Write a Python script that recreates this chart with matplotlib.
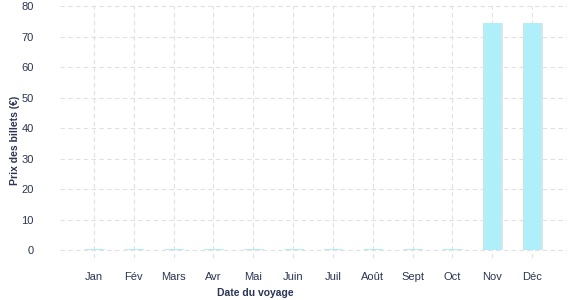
import numpy as np
import matplotlib.pyplot as plt

months = ["Jan", "Fév", "Mars", "Avr", "Mai", "Juin", "Juil", "Août", "Sept", "Oct", "Nov", "Déc"]
prices = [0.3, 0.3, 0.3, 0.3, 0.3, 0.3, 0.3, 0.3, 0.3, 0.3, 74.5, 74.5]

plt.rcParams["font.family"] = ["Liberation Sans", "DejaVu Sans"]
text_col = "#2b3553"

fig = plt.figure(figsize=(5.77, 3.0), dpi=100)
ax = fig.add_axes([60 / 577, 1 - 258 / 300, 507 / 577, 252 / 300])

x = np.arange(len(months))
# soft shadow behind bars
ax.bar(x + 0.04, prices, width=0.45, color="#e2e2e2", zorder=2)
ax.bar(x, prices, width=0.45, color="#aeeff9", zorder=3)

ax.set_xlim(-0.854, 11.88)
ax.set_ylim(-2.6, 80)
ax.set_yticks(range(0, 81, 10))
ax.set_xticks(x)
ax.set_xticklabels(months)
ax.grid(True, color="#e0e0e0", linestyle=(0, (4, 3)), linewidth=0.8, zorder=0)
for s in ax.spines.values():
    s.set_visible(False)
ax.tick_params(length=0, labelsize=8, colors=text_col, pad=10)
ax.tick_params(axis="y", pad=19)

fig.text(255 / 577, 1 - 293 / 300, "Date du voyage", ha="center", va="center",
         fontsize=7.5, fontweight="bold", color=text_col)
fig.text(15 / 577, 1 - 140 / 300, "Prix des billets (€)", ha="center", va="center",
         rotation=90, fontsize=7.5, fontweight="bold", color=text_col)

fig.savefig("out.png", dpi=100)
